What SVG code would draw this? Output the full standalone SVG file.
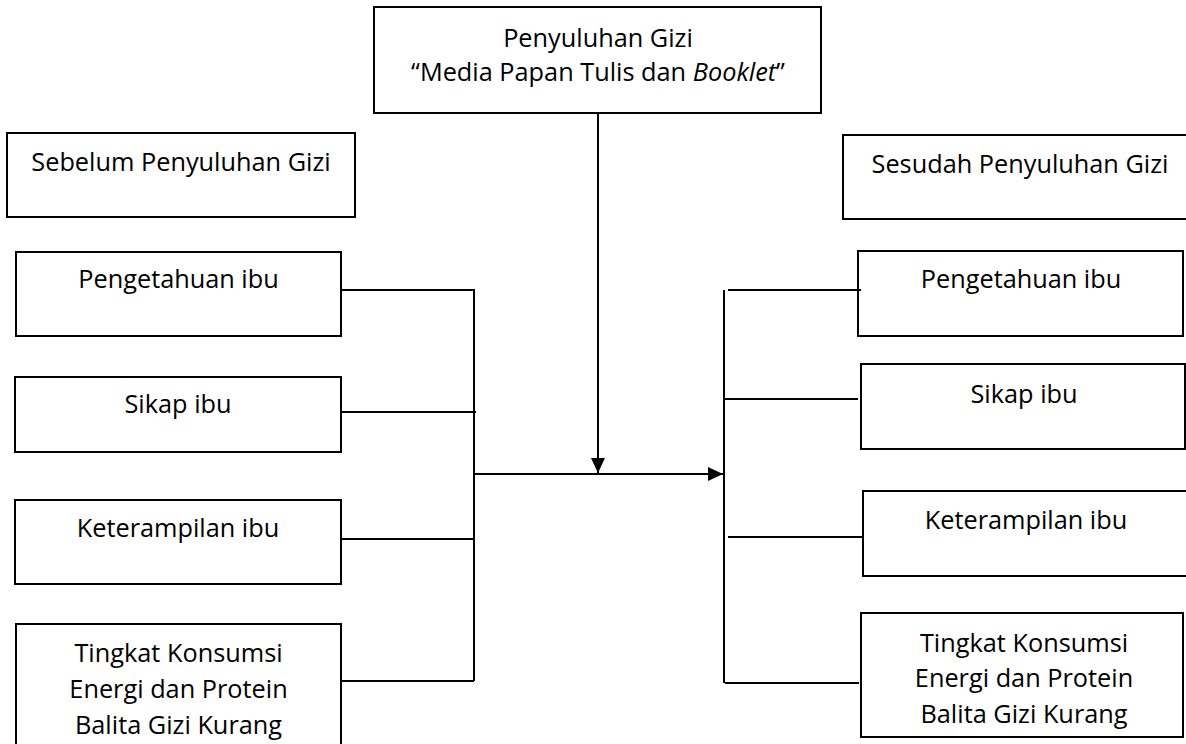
<svg xmlns="http://www.w3.org/2000/svg" width="1186" height="744" viewBox="0 0 1186 744">
<style>
.box{fill:#fff;stroke:#000;stroke-width:2}
.t{font-family:"Open Sans","Noto Sans","Liberation Sans",sans-serif;font-size:25.3px;fill:#000;text-anchor:middle}
.ln{fill:none;stroke:#000;stroke-width:2}
</style>
<defs>
<marker id="arr" viewBox="0 0 15 14" refX="15" refY="7" markerWidth="15" markerHeight="14" markerUnits="userSpaceOnUse" orient="auto">
<path d="M0,0 L15,7 L0,14 Z" fill="#000"/>
</marker>
</defs>
<rect width="1186" height="744" fill="#fff"/>
<g id="top">
<rect class="box" x="374" y="7" width="447" height="106"/>
<text class="t" x="598" y="47">Penyuluhan Gizi</text>
<text class="t" x="598" y="81">“Media Papan Tulis dan <tspan font-style="italic">Booklet</tspan>”</text>
</g>
<g id="sebelum">
<rect class="box" x="7" y="133" width="348" height="84"/>
<text class="t" x="181" y="171">Sebelum Penyuluhan Gizi</text>
</g>
<g id="pengetahuan-l">
<rect class="box" x="16" y="252" width="325" height="84"/>
<text class="t" x="178.5" y="288">Pengetahuan ibu</text>
</g>
<g id="sikap-l">
<rect class="box" x="15" y="377" width="326" height="75"/>
<text class="t" x="178" y="413">Sikap ibu</text>
</g>
<g id="keterampilan-l">
<rect class="box" x="15" y="500" width="326" height="84"/>
<text class="t" x="178" y="537">Keterampilan ibu</text>
</g>
<g id="tingkat-l">
<rect class="box" x="16" y="624" width="325" height="130"/>
<text class="t" x="178.5" y="662">Tingkat Konsumsi</text>
<text class="t" x="178.5" y="698">Energi dan Protein</text>
<text class="t" x="178.5" y="734">Balita Gizi Kurang</text>
</g>
<g id="sesudah">
<rect class="box" x="843" y="135" width="360" height="84"/>
<text class="t" x="1020" y="173">Sesudah Penyuluhan Gizi</text>
</g>
<g id="pengetahuan-r">
<rect class="box" x="858" y="251" width="325" height="85"/>
<text class="t" x="1021" y="288">Pengetahuan ibu</text>
</g>
<g id="sikap-r">
<rect class="box" x="861" y="364" width="324" height="85"/>
<text class="t" x="1024" y="403">Sikap ibu</text>
</g>
<g id="keterampilan-r">
<rect class="box" x="863" y="491" width="340" height="85"/>
<text class="t" x="1026" y="529">Keterampilan ibu</text>
</g>
<g id="tingkat-r">
<rect class="box" x="861" y="613" width="322" height="124"/>
<text class="t" x="1024" y="652">Tingkat Konsumsi</text>
<text class="t" x="1024" y="687">Energi dan Protein</text>
<text class="t" x="1024" y="723">Balita Gizi Kurang</text>
</g>
<g id="connectors">
<path class="ln" d="M341,290 H474 V681 M341,412 H476 M341,539 H474 M341,681 H474"/>
<path class="ln" d="M474,474 H723" marker-end="url(#arr)"/>
<path class="ln" d="M598,113 V473" marker-end="url(#arr)"/>
<path class="ln" d="M724,290 V683 M728,290 H861 M724,399 H858 M728,537 H862 M725,683 H859"/>
</g>
</svg>
